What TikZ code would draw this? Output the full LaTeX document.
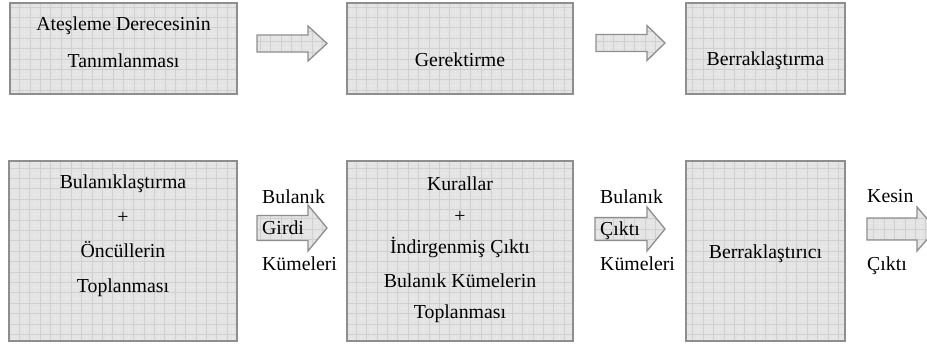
\documentclass[tikz,border=0pt]{standalone}
\usepackage{fontspec}
\setmainfont{Liberation Serif}
\definecolor{boxfill}{HTML}{E4E4E4}
\definecolor{gridc}{HTML}{D0D0D0}
\definecolor{finec}{HTML}{EDEDED}
\definecolor{edgec}{HTML}{8E8E8E}
\tikzset{
  hatch/.style={fill=boxfill, path picture={
      \draw[finec, line width=0.5pt, dotted]
        (path picture bounding box.south west) grid[step=5.2pt] (path picture bounding box.north east);
      \draw[gridc, line width=0.6pt]
        (path picture bounding box.south west) grid[step=10.4pt] (path picture bounding box.north east);}},
  box/.style={hatch, draw=edgec, line width=1.4pt, rectangle, inner sep=0pt},
  txt/.style={font=\fontsize{19.8}{23}\selectfont, anchor=base, inner sep=0pt},
  lab/.style={txt, anchor=base west},
  blockarrow/.style={hatch, draw=edgec, line width=1.3pt, line join=miter}
}
% name, shaft start x, head start x, tip x, centre y, shaft half height, head half height
\newcommand{\barrow}[7]{%
  \coordinate (#1) at (#2,#5);
  \draw[blockarrow] ({#2},{#5-#6}) -- ({#3},{#5-#6}) -- ({#3},{#5-#7}) -- ({#4},{#5})
    -- ({#3},{#5+#7}) -- ({#3},{#5+#6}) -- ({#2},{#5+#6}) -- cycle;}
\begin{document}
\begin{tikzpicture}[x=1pt,y=-1pt]
\useasboundingbox[fill=white] (0,0) rectangle (927,343);

% top row
\node[box, minimum width=227pt, minimum height=91pt] (b1) at (123.5,48.5) {};
\node[box, minimum width=226pt, minimum height=91pt] (b2) at (460,48.5) {};
\node[box, minimum width=159pt, minimum height=91pt] (b3) at (765.5,48.5) {};
\node[txt] (t1a) at (123.5,30) {Ateşleme Derecesinin};
\node[txt] (t1b) at (123.5,67) {Tanımlanması};
\node[txt] (t2) at (460,66) {Gerektirme};
\node[txt] (t3) at (765.5,65) {Berraklaştırma};
\barrow{a1}{257}{308}{327}{43.5}{8.5}{17.5}
\barrow{a2}{596}{647}{665}{43}{8.5}{17.5}

% bottom row
\node[box, minimum width=228pt, minimum height=180pt] (c1) at (123,251) {};
\node[box, minimum width=226pt, minimum height=180pt] (c2) at (460,251) {};
\node[box, minimum width=159pt, minimum height=180pt] (c3) at (765.5,251) {};

\node[txt] (u1a) at (123,188) {Bulanıklaştırma};
\node[txt] (u1b) at (123,223) {+};
\node[txt] (u1c) at (123,257) {Öncüllerin};
\node[txt] (u1d) at (123,292) {Toplanması};

\node[txt] (u2a) at (460,190) {Kurallar};
\node[txt] (u2b) at (460,222) {+};
\node[txt] (u2c) at (460,253) {İndirgenmiş Çıktı};
\node[txt] (u2d) at (460,287) {Bulanık Kümelerin};
\node[txt] (u2e) at (460,318) {Toplanması};

\node[txt] (u3) at (765.5,258) {Berraklaştırıcı};

\barrow{g1}{257}{308}{327}{228}{12.5}{23}
\barrow{g2}{595}{647}{665}{229}{11.5}{22}
\barrow{g3}{867}{917}{936}{229}{11}{22}

\node[lab] (l1a) at (262,203) {Bulanık};
\node[lab] (l1b) at (262,234) {Girdi};
\node[lab] (l1c) at (262,270) {Kümeleri};
\node[lab] (l2a) at (600,203) {Bulanık};
\node[lab] (l2b) at (600,235) {Çıktı};
\node[lab] (l2c) at (600,270) {Kümeleri};
\node[lab] (l3a) at (867,202) {Kesin};
\node[lab] (l3b) at (867,270) {Çıktı};
\end{tikzpicture}
\end{document}
